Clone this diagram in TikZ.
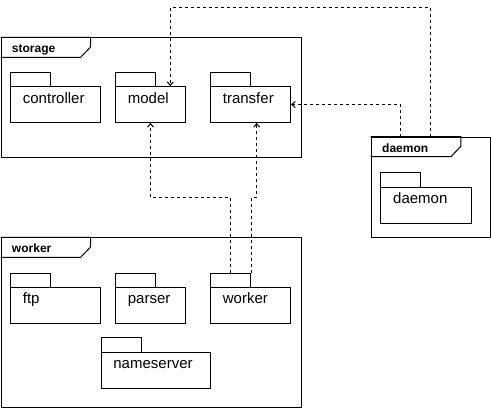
\documentclass[tikz,border=0pt]{standalone}
\usepackage{fontspec}
\setmainfont{Liberation Sans}
\usetikzlibrary{arrows.meta,calc}
\tikzset{
  line/.style={draw=black,line width=1pt},
  framebox/.style={line,anchor=north west,inner sep=0pt,minimum height=#1},
  pkgtab/.style={line,anchor=north west,inner sep=0pt,minimum width=40pt,minimum height=14.4pt},
  pkgbody/.style={line,anchor=north west,inner sep=0pt,minimum height=35.8pt},
  pkgtext/.style={anchor=base west,inner sep=0pt,font=\fontsize{15}{18}\selectfont},
  frametext/.style={anchor=base west,inner sep=0pt,font=\fontsize{12}{14}\selectfont\bfseries},
  dep/.style={line,dash pattern=on 3pt off 3pt,-{Straight Barb[length=3.5pt,width=6pt,line width=1pt]}},
}
\newcommand\pkgbox[5]{% name, x, y(top of tab), body width, text
  \node[pkgtab] (#1tab) at (#2,#3) {};
  \node[pkgbody,minimum width=#4pt] (#1body) at (#2,#3+14.4) {};
  \node[pkgtext] (#1txt) at (#2+12.7,#3+31.4) {#5};
}
\newcommand\frametab[4]{% name, x, y, label
  \draw[line] (#2,#3) -- ++(90.2,0) -- ++(0,9.5) -- ++(-10,10.5) -- (#2,#3+20);
  \node[frametext] (#1lbl) at (#2+11.3,#3+15.5) {#4};
}
\begin{document}
\begin{tikzpicture}[x=1pt,y=-1pt]
\useasboundingbox[fill=white] (0,0) rectangle (491,408);
% frames
\node[framebox=119.4pt,minimum width=300pt] (storageframe) at (0.5,37.3) {};
\frametab{storage}{0.5}{37.3}{storage}
\node[framebox=100.6pt,minimum width=119pt] (daemonframe) at (370.7,136.7) {};
\frametab{daemon}{370.7}{136.7}{daemon}
\node[framebox=169.5pt,minimum width=300pt] (workerframe) at (0.5,237.3) {};
\frametab{worker}{0.5}{237.3}{worker}
% packages
\pkgbox{controller}{10}{71.7}{90}{controller}
\pkgbox{model}{115}{71.7}{70}{model}
\pkgbox{transfer}{210}{71.7}{80}{transfer}
\pkgbox{daemonpkg}{380.3}{172.3}{90.4}{daemon}
\pkgbox{ftp}{10}{272.5}{90}{ftp}
\pkgbox{parser}{115}{272.5}{70}{parser}
\pkgbox{worker}{210}{272.5}{80}{worker}
\pkgbox{nameserver}{100.5}{337.3}{109.5}{nameserver}
% dependencies
\draw[dep] ($(daemonframe.north west)+(60,0)$) -- ++(0,-129.4) -| ($(modelbody.north west)+(55.3,0)$);
\draw[dep] ($(daemonframe.north west)+(29.6,0)$) |- (transferbody.east);
\draw[dep] (workertab.north) -- ++(0,-75.3) -| (modelbody.south);
\draw[dep] (workertab.north east) -- ++(0,-75.3) -| ($(transferbody.south west)+(46.7,0)$);
\end{tikzpicture}
\end{document}
